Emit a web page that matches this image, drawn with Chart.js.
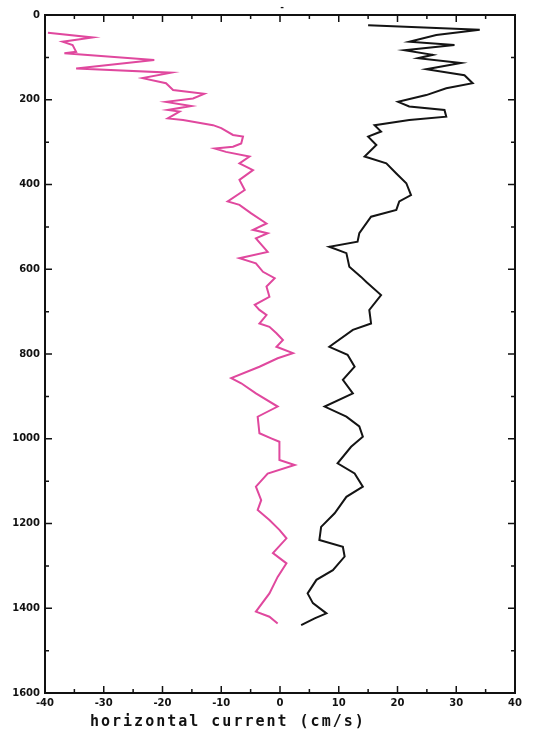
<!DOCTYPE html>
<html>
<head>
<meta charset="utf-8">
<script src="https://cdn.jsdelivr.net/npm/chart.js"></script>
<style>
  body { margin: 0; background: #fff; }
  #wrap { width: 542px; height: 731px; }
</style>
</head>
<body>
<div id="wrap"><canvas id="profile"></canvas></div>
<script>
// current profile: depth (m) vs horizontal current (cm/s)

const uDepth = [42, 53, 63, 71, 87, 90, 106, 126, 136, 149, 161, 177, 186, 197, 205, 215, 224, 228, 244, 248,
  260, 267, 283, 287, 303, 311, 315, 323, 334, 350, 366, 389, 413, 440, 448, 468, 492, 507, 515, 527,
  559, 574, 586, 606, 621, 641, 665, 684, 696, 708, 728, 736, 751, 767, 783, 798, 810, 830, 857, 869,
  893, 924, 948, 987, 999, 1007, 1050, 1062, 1082, 1113, 1145, 1168, 1192, 1215, 1235, 1270, 1294, 1326,
  1365, 1408, 1420, 1436];
const uSpeed = [-39.5, -31.9, -37.0, -35.3, -34.7, -36.7, -21.4, -34.7, -18.5, -23.4, -19.4, -18.2, -12.9, -14.8, -19.4, -15.1, -19.1, -17.1, -19.1, -16.5,
  -11.4, -10.0, -8.0, -6.3, -6.6, -8.0, -11.1, -9.2, -5.2, -6.9, -4.6, -6.9, -6.0, -8.9, -6.9, -4.9, -2.3, -4.6, -2.1, -4.1,
  -2.1, -6.9, -4.1, -2.9, -0.9, -2.3, -1.8, -4.3, -3.5, -2.3, -3.5, -1.8, -0.6, 0.5, -0.6, 2.2, -0.4, -3.5, -8.3, -6.6,
  -4.1, -0.4, -3.8, -3.5, -1.5, -0.1, -0.1, 2.5, -2.1, -4.1, -3.2, -3.8, -1.8, -0.1, 1.1, -1.2, 1.1, -0.4,
  -1.8, -4.1, -1.8, -0.4];

const vDepth = [24, 35, 47, 63, 71, 83, 94, 102, 113, 128, 142, 161, 173, 189, 205, 216, 224, 240, 248, 260,
  275, 287, 307, 334, 350, 374, 397, 425, 440, 460, 476, 515, 535, 547, 562, 594, 618, 630, 661, 696,
  728, 743, 783, 802, 830, 861, 893, 924, 948, 971, 995, 1019, 1058, 1082, 1113, 1137, 1176,
  1208, 1239, 1255, 1278, 1310, 1333, 1365, 1388, 1412, 1424, 1440];
const vSpeed = [15.0, 34.0, 26.6, 22.0, 29.7, 21.2, 26.0, 23.5, 30.8, 24.9, 31.4, 32.8, 28.3, 24.9, 20.1, 22.0, 28.0, 28.3, 22.0, 16.1,
  17.2, 15.0, 16.4, 14.4, 18.1, 19.8, 21.5, 22.3, 20.3, 19.8, 15.5, 13.5, 13.2, 8.4, 11.3, 11.8, 13.8, 14.7, 17.2, 15.2,
  15.5, 12.4, 8.4, 11.5, 12.7, 10.7, 12.4, 7.6, 11.3, 13.5, 14.1, 12.1, 9.8, 12.7, 14.1, 11.3, 9.3,
  7.0, 6.7, 10.7, 11.0, 9.0, 6.2, 4.7, 5.6, 7.9, 5.9, 3.6];

const xTickValues = [-40, -30, -20, -10, 0, 10, 20, 30, 40];
const depthTicks = [0, 200, 400, 600, 800, 1000, 1200, 1400, 1600];
const xTitle = "horizontal current (cm/s)";

const toPoints = (depth, speed) => depth.map((d, i) => ({ x: speed[i], y: d }));

// frame with inward ticks on all four sides + axis title
const frameTicks = {
  id: "frameTicks",
  afterDraw(chart) {
    const ctx = chart.ctx;
    const a = chart.chartArea;
    const xs = chart.scales.x;
    const ys = chart.scales.y;
    ctx.save();
    ctx.strokeStyle = "#111";
    ctx.lineWidth = 2;
    ctx.strokeRect(a.left, a.top, a.right - a.left, a.bottom - a.top);

    ctx.lineWidth = 1.5;
    ctx.beginPath();
    for (let v = -40; v <= 40; v += 5) {
      const px = xs.getPixelForValue(v);
      const len = v % 10 === 0 ? 7 : 4;
      ctx.moveTo(px, a.bottom); ctx.lineTo(px, a.bottom - len);
      ctx.moveTo(px, a.top); ctx.lineTo(px, a.top + len);
    }
    for (let d = 0; d <= 1600; d += 100) {
      const py = ys.getPixelForValue(d);
      const len = d % 200 === 0 ? 7 : 4;
      ctx.moveTo(a.left, py); ctx.lineTo(a.left + len, py);
      ctx.moveTo(a.right, py); ctx.lineTo(a.right - len, py);
    }
    ctx.stroke();

    ctx.fillStyle = "#111";
    ctx.textBaseline = "middle";
    ctx.font = "bold 15px 'DejaVu Sans Mono'";
    ctx.letterSpacing = "2px";
    ctx.fillText(xTitle, 90, 722);
    ctx.letterSpacing = "0px";
    ctx.font = "bold 9px 'DejaVu Sans'";
    ctx.textAlign = "center";
    ctx.fillText("-", 282, 8);
    ctx.restore();
  }
};

new Chart("profile", {
  type: "scatter",
  data: {
    datasets: [
      {
        label: "u",
        data: toPoints(uDepth, uSpeed),
        showLine: true,
        borderColor: "rgb(224, 72, 158)",
        borderWidth: 2,
        pointRadius: 0,
        tension: 0,
      },
      {
        label: "v",
        data: toPoints(vDepth, vSpeed),
        showLine: true,
        borderColor: "rgb(20, 20, 20)",
        borderWidth: 2,
        pointRadius: 0,
        tension: 0,
      },
    ]
  },
  options: {
    responsive: true,
    maintainAspectRatio: false,
    animation: false,
    layout: { padding: { left: 0, right: 27, top: 15, bottom: 0 } },
    plugins: {
      legend: { display: false },
      tooltip: { enabled: false },
    },
    scales: {
      x: {
        type: "linear",
        min: -40,
        max: 40,
        grid: { display: false, drawTicks: false },
        border: { display: false },
        afterBuildTicks: (s) => { s.ticks = xTickValues.map(v => ({ value: v })); },
        afterFit: (s) => { s.height = 38; },
        ticks: {
          padding: 4,
          color: "#111",
          maxRotation: 0,
          callback: (v) => String(v),
          font: { family: "DejaVu Sans", size: 10, weight: "bold" },
        }
      },
      y: {
        type: "linear",
        min: 0,
        max: 1600,
        reverse: true,
        grid: { display: false, drawTicks: false },
        border: { display: false },
        afterBuildTicks: (s) => { s.ticks = depthTicks.map(v => ({ value: v })); },
        afterFit: (s) => { s.width = 45; },
        ticks: {
          padding: 5,
          color: "#111",
          callback: (v) => String(v),
          font: { family: "DejaVu Sans", size: 10, weight: "bold" },
        }
      }
    }
  },
  plugins: [frameTicks]
});
</script>
</body>
</html>
